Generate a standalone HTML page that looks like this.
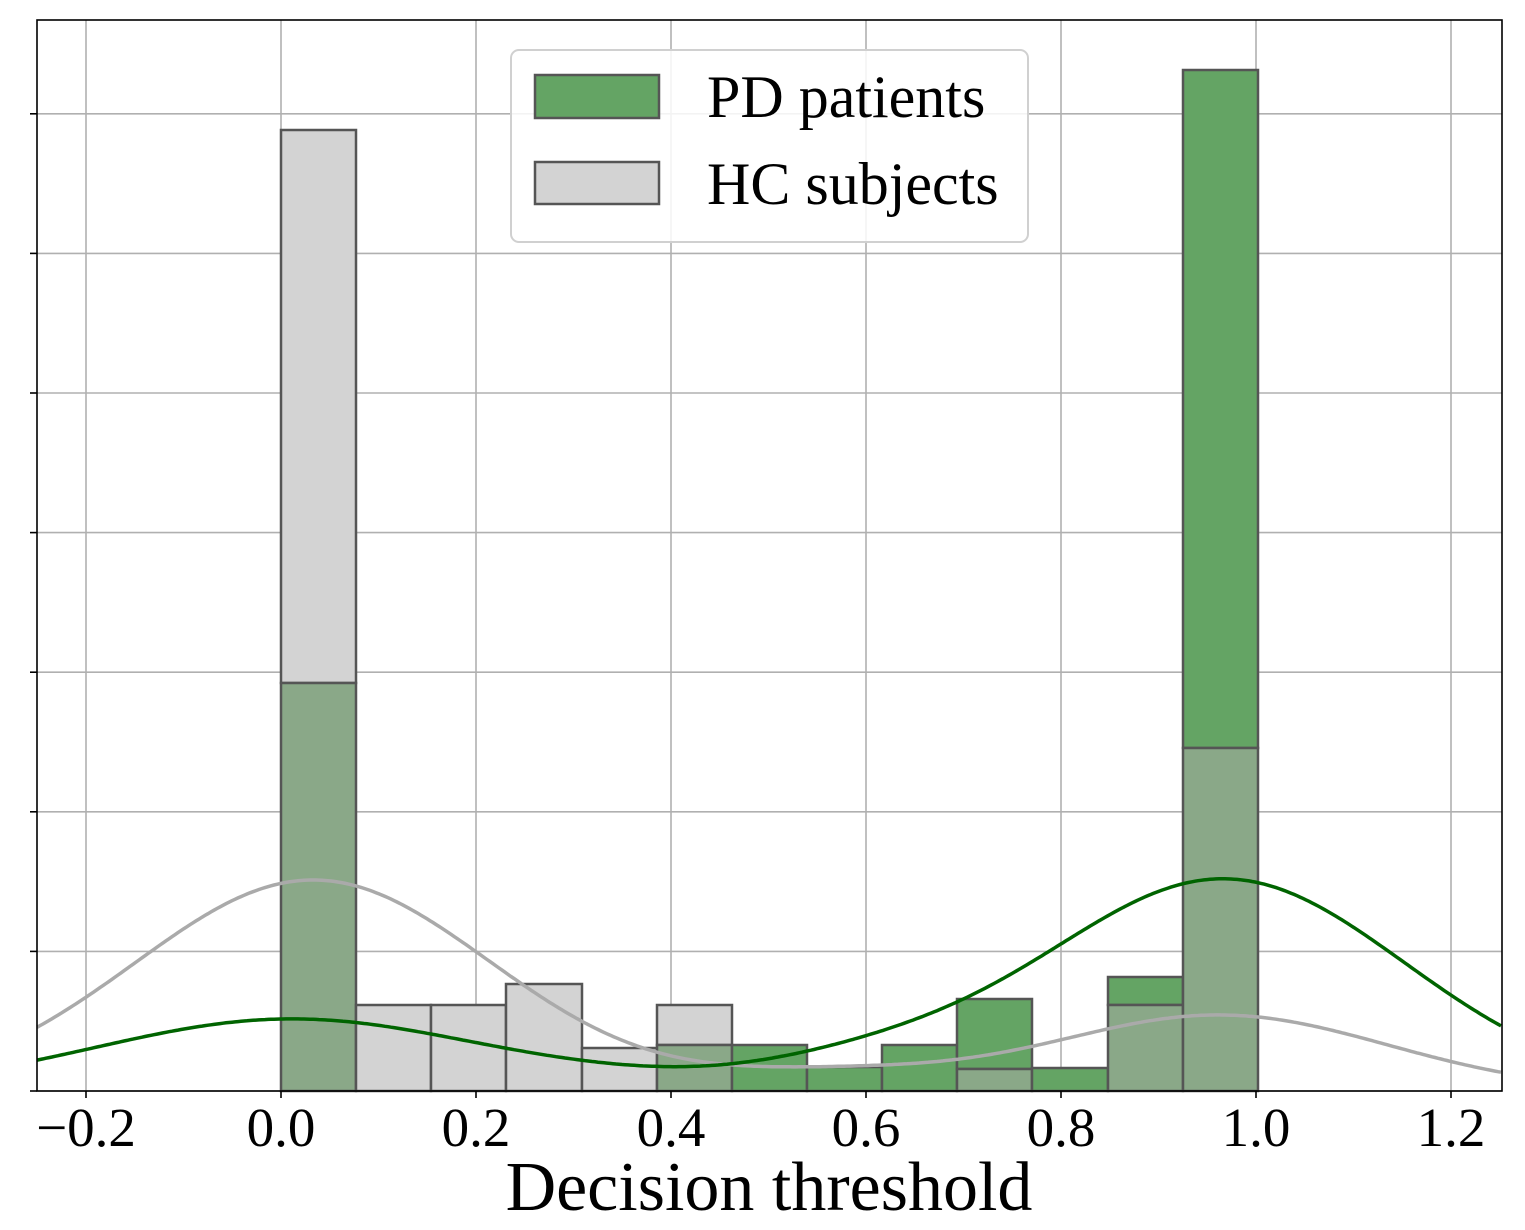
<!DOCTYPE html>
<html><head><meta charset="utf-8"><style>
html,body{margin:0;padding:0;background:#fff;}
svg{display:block;}
text{font-family:"Liberation Serif",serif;fill:#000;}
</style></head><body>
<svg id="s" width="1525" height="1230" xmlns="http://www.w3.org/2000/svg">
<rect x="0" y="0" width="1525" height="1230" fill="#fff"/>
<g id="grid" stroke="#b0b0b0" stroke-width="1.6"></g>
<g id="bars" stroke="#555" stroke-width="2.5"></g>
<path id="gk" fill="none" stroke="#aaaaaa" stroke-width="3.5"/>
<path id="gn" fill="none" stroke="#006400" stroke-width="3.5"/>
<rect x="37" y="20" width="1465" height="1071" fill="none" stroke="#000" stroke-width="1.6"/>
<g id="ticks" stroke="#000" stroke-width="1.6"></g>
<g font-size="55" text-anchor="middle">
<text x="86" y="1146">−0.2</text><text x="281" y="1146">0.0</text><text x="476" y="1146">0.2</text>
<text x="671" y="1146">0.4</text><text x="866" y="1146">0.6</text><text x="1061" y="1146">0.8</text>
<text x="1256" y="1146">1.0</text><text x="1451" y="1146">1.2</text>
</g>
<text x="769" y="1210" font-size="70" text-anchor="middle">Decision threshold</text>
<rect x="511" y="50" width="517" height="192" rx="8" fill="#fff" fill-opacity="0.85" stroke="#d0d0d0" stroke-width="2"/>
<rect x="535" y="75" width="124" height="43" fill="#64a464" stroke="#555" stroke-width="2.5"/>
<rect x="535" y="162" width="124" height="42" fill="#d3d3d3" stroke="#555" stroke-width="2.5"/>
<text x="707" y="117" font-size="60">PD patients</text>
<text x="707" y="204" font-size="60">HC subjects</text>
</svg>
<script>
const NS="http://www.w3.org/2000/svg";
function el(p,t,a){const e=document.createElementNS(NS,t);for(const k in a)e.setAttribute(k,a[k]);p.appendChild(e);}
const grid=document.getElementById('grid'),ticks=document.getElementById('ticks'),bars=document.getElementById('bars');
const xs=[86,281,476,671,866,1061,1256,1451];
xs.forEach(x=>{el(grid,'line',{x1:x,y1:20,x2:x,y2:1091});el(ticks,'line',{x1:x,y1:1091,x2:x,y2:1098});});
for(let i=0;i<8;i++){const y=1091-i*139.6;el(grid,'line',{x1:37,y1:y,x2:1502,y2:y});el(ticks,'line',{x1:30,y1:y,x2:37,y2:y});}
const E=[281,356,431,506,582,657,732,807,882,957,1032,1108,1183,1258];
const G=[130,1005,1005,984,1048,1005,null,null,null,1069,null,1005,748];
const N=[683,null,null,null,null,1045,1045,1067,1045,999,1068,977,70];
for(let i=0;i<13;i++){
 const x=E[i],w=E[i+1]-x,g=G[i],n=N[i];
 if(g!==null&&n!==null){
  if(g<n){el(bars,'rect',{x:x,y:g,width:w,height:n-g,fill:'#d3d3d3'});el(bars,'rect',{x:x,y:n,width:w,height:1091-n,fill:'#8aa888'});}
  else{el(bars,'rect',{x:x,y:n,width:w,height:g-n,fill:'#64a464'});el(bars,'rect',{x:x,y:g,width:w,height:1091-g,fill:'#8aa888'});}
 }else if(g!==null)el(bars,'rect',{x:x,y:g,width:w,height:1091-g,fill:'#d3d3d3'});
 else if(n!==null)el(bars,'rect',{x:x,y:n,width:w,height:1091-n,fill:'#64a464'});
}
function ga(x,m,s){return Math.exp(-(x-m)*(x-m)/(2*s*s));}
function path(f){let d='';for(let px=37;px<=1502;px+=3){const x=(px-281)/975;d+=(d?'L':'M')+px+','+(1091-f(x)).toFixed(1);}return d;}
document.getElementById('gk').setAttribute('d',path(x=>211*ga(x,0.033,0.183)+76*ga(x,0.962,0.173)+16*ga(x,0.56,0.12)));
document.getElementById('gn').setAttribute('d',path(x=>212*ga(x,0.967,0.185)+72*ga(x,0.01,0.2)+24*ga(x,0.6,0.12)+6*ga(x,0.36,0.12)));
</script>
</body></html>
